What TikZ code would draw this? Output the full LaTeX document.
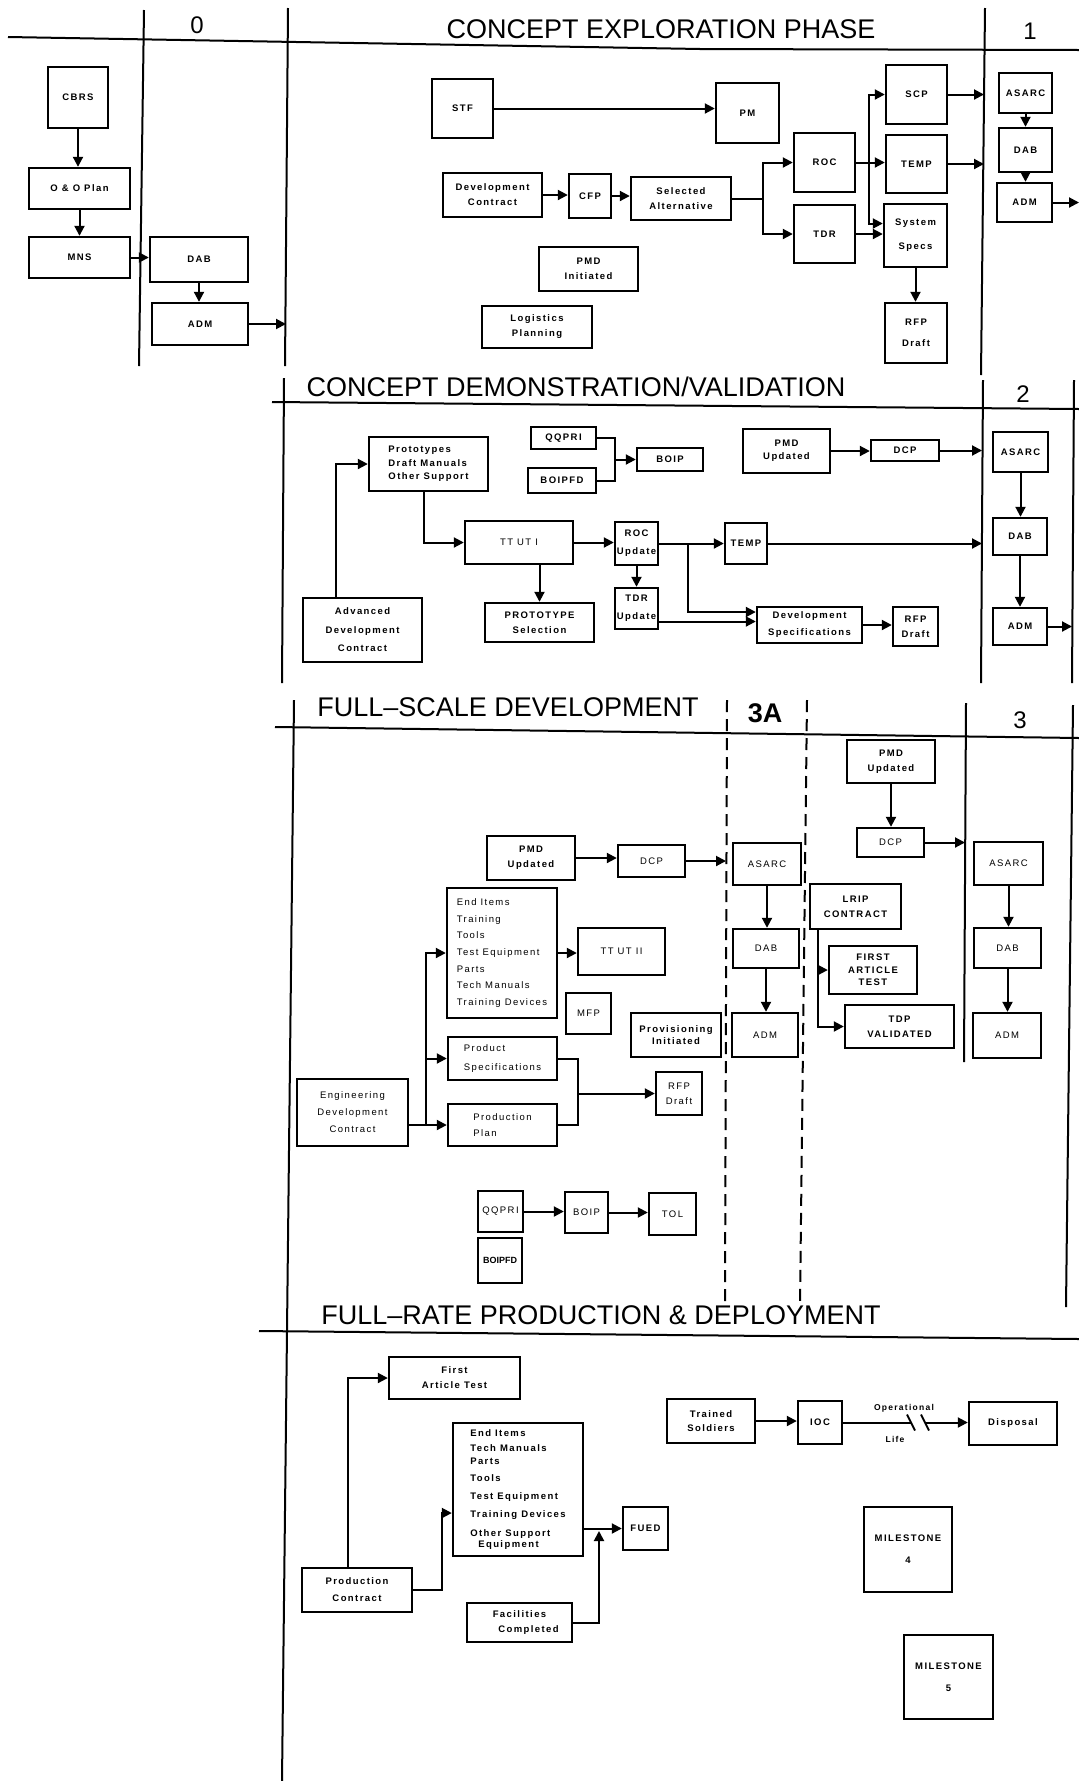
\documentclass[tikz,border=0pt]{standalone}
\usepackage{fontspec}
\setmainfont{Liberation Sans}
\newfontfamily\boxfont[LetterSpace=15]{Liberation Sans}
\newfontfamily\phasefont{Liberation Sans}
\usetikzlibrary{arrows.meta,calc,positioning}

\begin{document}
\begin{tikzpicture}[
  x=1pt, y=-1pt,
  box/.style={draw, line width=2.4pt, align=center, inner sep=1pt,
    font=\boxfont\fontsize{9.5}{15}\selectfont\bfseries},
  lbox/.style={box, font=\boxfont\fontsize{9.5}{15}\selectfont},
  sz/.style 2 args={minimum width=#1pt, minimum height=#2pt},
  arr/.style={-{Triangle[length=10pt,width=10pt]}, line width=2pt},
  ln/.style={line width=2pt},
  phase/.style={line width=2pt},
  ptitle/.style={font=\phasefont\fontsize{27}{30}\selectfont},
  mnum/.style={font=\phasefont\fontsize{24}{26}\selectfont},
  lab/.style={font=\boxfont\fontsize{8.5}{10}\selectfont\bfseries}
]
  \useasboundingbox (0,0) rectangle (1079,1781);

  % Phase lines
  \draw[phase] (8,37) -- (700,49) -- (1079,50);
  \draw[phase] (144,10) -- (139,366);
  \draw[phase] (288,8) -- (285,366);
  \draw[phase] (985,8) -- (981,375);
  \draw[phase] (272,402) -- (1079,409);
  \draw[phase] (284,378) -- (282,683);
  \draw[phase] (983,380) -- (981,683);
  \draw[phase] (1074,380) -- (1072,683);
  \draw[phase] (275,727) -- (1079,738);
  \draw[phase] (294,700) -- (282,1781);
  \draw[phase, dash pattern=on 12pt off 7pt] (727,700) -- (725,1305);
  \draw[phase, dash pattern=on 12pt off 7pt] (807,700) -- (800,1305);
  \draw[phase] (966,703) -- (964,1062);
  \draw[phase] (1073,705) -- (1066,1307);
  \draw[phase] (259,1331) -- (1079,1339);
  \coordinate (l0) at (286,0);
  \coordinate (l1) at (984,0);
  \coordinate (l1r) at (1079,0);
  \coordinate (l2) at (982,0);
  \coordinate (l2r) at (1072,0);
  \coordinate (l3a) at (726,0);
  \coordinate (l3) at (965,0);

  % Phase titles and milestones
  \node[ptitle] (cetitle) at (661,29) {CONCEPT EXPLORATION PHASE};
  \node[ptitle] (cdtitle) at (576,387) {CONCEPT DEMONSTRATION/VALIDATION};
  \node[ptitle] (fsdtitle) at (508,707) {FULL\textendash SCALE DEVELOPMENT};
  \node[ptitle] (frptitle) at (601,1315) {FULL\textendash RATE PRODUCTION \& DEPLOYMENT};
  \node[mnum] (n0) at (197,25) {0};
  \node[mnum] (n1) at (1030,31) {1};
  \node[mnum] (n2) at (1023,394) {2};
  \node[mnum, font=\phasefont\bfseries\fontsize{27}{30}\selectfont] (n3a) at (765,713) {3A};
  \node[mnum] (n3) at (1020,720) {3};

  % Before milestone 0
  \node[box, sz={60}{61}] (cbrs) at (78,97.5) {CBRS};
  \node[box, sz={101}{41}] (oo) at (79.5,188.5) {O \& O Plan};
  \node[box, sz={101}{41}] (mns) at (79.5,257.5) {MNS};
  \node[box, sz={98}{45}] (dab0) at (199,259.5) {DAB};
  \node[box, sz={96}{42}] (adm0) at (200,324) {ADM};

  % Concept exploration
  \node[box, sz={61}{59}] (stf) at (462.5,108.5) {STF};
  \node[box, sz={63}{60}] (pm) at (747.5,113) {PM};
  \node[box, sz={99}{44}] (devc) at (492.5,195) {Development\\Contract};
  \node[box, sz={42}{44}] (cfp) at (590,196) {CFP};
  \node[box, sz={100}{43}] (selalt) at (681,198.5) {Selected\\Alternative};
  \node[box, sz={99}{44}] (pmdi) at (588.5,269) {PMD\\Initiated};
  \node[box, sz={110}{42}] (logp) at (537,327) {Logistics\\Planning};
  \node[box, sz={61}{59}] (roc) at (824.5,162.5) {ROC};
  \node[box, sz={61}{58}] (tdr) at (824.5,234) {TDR};
  \node[box, sz={61}{59}] (scp) at (916.5,94.5) {SCP};
  \node[box, sz={61}{58}] (temp) at (916.5,164) {TEMP};
  \node[box, sz={63}{63}] (sysspec) at (915.5,235.5) {System\\[9pt]Specs};
  \node[box, sz={62}{60}] (rfpa) at (916,333) {RFP\\[6pt]Draft};
  \node[box, sz={53}{40}] (asarca) at (1025.5,93) {ASARC};
  \node[box, sz={53}{44}] (daba) at (1025.5,150) {DAB};
  \node[box, sz={55}{39}] (adma) at (1024.5,202.5) {ADM};

  % Concept demonstration / validation
  \node[box, sz={119}{54}, align=left] (proto) at (428.5,464) {Prototypes\\[-1.5pt]Draft Manuals\\[-1.5pt]Other Support};
  \node[box, sz={65}{22}] (qqprib) at (563.5,438) {QQPRI};
  \node[box, sz={68}{25}] (boipfdb) at (562,480.5) {BOIPFD};
  \node[box, sz={66}{23}] (boipb) at (670,459.5) {BOIP};
  \node[lbox, sz={108}{43}] (ttuta) at (519,542.5) {TT UT I};
  \node[box, sz={119}{64}] (adc) at (362.5,630) {Advanced\\[3.5pt]Development\\[3.5pt]Contract};
  \node[box, sz={109}{39}] (protsel) at (539.5,622.5) {PROTOTYPE\\Selection};
  \node[box, sz={43}{43}, inner sep=0pt] (rocu) at (636.5,543.5) {ROC\\[3pt]Update};
  \node[box, sz={43}{41}, inner sep=0pt] (tdru) at (636.5,608.5) {TDR\\[3pt]Update};
  \node[box, sz={42}{41}] (tempb) at (746,543.5) {TEMP};
  \node[box, sz={105}{36}] (devspec) at (809.5,625) {Development\\[2pt]Specifications};
  \node[box, sz={45}{39}] (rfpb) at (915.5,626.5) {RFP\\Draft};
  \node[box, sz={87}{44}] (pmdub) at (786.5,451) {PMD\\[-2pt]Updated};
  \node[box, sz={68}{21}] (dcpb) at (905,450.5) {DCP};
  \node[box, sz={55}{40}] (asarcb) at (1020.5,452) {ASARC};
  \node[box, sz={54}{37}] (dabb) at (1020,536.5) {DAB};
  \node[box, sz={54}{37}] (admb) at (1020,626.5) {ADM};

  % Full-scale development
  \node[box, sz={88}{44}] (pmduc) at (531,858) {PMD\\Updated};
  \node[lbox, sz={67}{32}] (dcpc) at (651.5,861) {DCP};
  \node[lbox, sz={110}{130}, align=left] (enditc) at (502,953) {End Items\\[1.7pt]Training\\[1.7pt]Tools\\[1.7pt]Test Equipment\\[1.7pt]Parts\\[1.7pt]Tech Manuals\\[1.7pt]Training Devices};
  \node[lbox, sz={87}{47}] (ttutb) at (621.5,951.5) {TT UT II};
  \node[lbox, sz={45}{41}] (mfp) at (588.5,1013.5) {MFP};
  \node[box, sz={90}{44}] (provi) at (676,1035) {Provisioning\\[-3pt]Initiated};
  \node[lbox, sz={109}{43}, align=left] (prodspec) at (502.5,1058.5) {Product\\[4pt]Specifications};
  \node[lbox, sz={109}{42}, align=left] (prodplan) at (502.5,1125) {Production\\[1pt]Plan};
  \node[lbox, sz={111}{67}] (edc) at (352.5,1112.5) {Engineering\\[2pt]Development\\[2pt]Contract};
  \node[lbox, sz={46}{43}] (rfpc) at (679,1093.5) {RFP\\Draft};
  \node[lbox, sz={45}{41}, inner sep=0pt] (qqpric) at (500.5,1211.5) {QQPRI};
  \node[lbox, sz={43}{41}] (boipc) at (586.5,1212.5) {BOIP};
  \node[lbox, sz={47}{42}] (tol) at (672.5,1214) {TOL};
  \node[box, sz={44}{45}, inner sep=0pt, font=\bfseries\fontsize{9}{11}\selectfont] (boipfdc) at (500,1260.5) {BOIPFD};
  \node[lbox, sz={68}{42}] (asarcc) at (767,864) {ASARC};
  \node[lbox, sz={66}{39}] (dabc) at (766,948.5) {DAB};
  \node[lbox, sz={66}{44}] (admc) at (765,1035) {ADM};
  \node[box, sz={88}{43}] (pmdud) at (891,761.5) {PMD\\Updated};
  \node[lbox, sz={67}{29}] (dcpd) at (890.5,842.5) {DCP};
  \node[box, sz={91}{45}] (lrip) at (855.5,906.5) {LRIP\\CONTRACT};
  \node[box, sz={88}{48}] (fatc) at (873,970) {FIRST\\[-2.5pt]ARTICLE\\[-2.5pt]TEST};
  \node[box, sz={109}{43}] (tdp) at (899.5,1026.5) {TDP\\VALIDATED};
  \node[lbox, sz={69}{43}] (asarcd) at (1008.5,863.5) {ASARC};
  \node[lbox, sz={67}{40}] (dabd) at (1007.5,948) {DAB};
  \node[lbox, sz={68}{45}] (admd) at (1007,1035.5) {ADM};

  % Full-rate production & deployment
  \node[box, sz={131}{42}] (fatd) at (454.5,1378) {First\\Article Test};
  \node[box, sz={130}{133}, align=left] (enditd) at (518,1489.5) {End Items\\Tech Manuals\\[-2pt]Parts\\[2pt]Tools\\[3pt]Test Equipment\\[3pt]Training Devices\\[4pt]Other Support\\[-4pt]\hspace*{8pt}Equipment};
  \node[box, sz={110}{44}] (pc) at (357,1590) {Production\\[2pt]Contract};
  \node[box, sz={45}{43}, inner sep=0pt] (fued) at (645.5,1528.5) {FUED};
  \node[box, sz={105}{39}] (facc) at (519.5,1622.5) {Facilities\\\hspace*{18pt}Completed};
  \node[box, sz={88}{44}] (trs) at (711,1421) {Trained\\[-1pt]Soldiers};
  \node[box, sz={44}{43}] (ioc) at (820,1422.5) {IOC};
  \node[box, sz={88}{43}] (disp) at (1013,1423.5) {Disposal};
  \node[box, sz={88}{85}] (msf) at (908,1549.5) {MILESTONE\\[7pt]4};
  \node[box, sz={89}{84}] (msg) at (948.5,1677) {MILESTONE\\[7pt]5};
  \node[lab] (oplab) at (904,1408) {Operational};
  \node[lab] (lifelab) at (895,1439) {Life};

  % Connections: before milestone 0
  \draw[arr] (cbrs.south) -- (cbrs.south |- oo.north);
  \draw[arr] (oo.south) -- (oo.south |- mns.north);
  \draw[arr] (mns.east) -- (mns.east -| dab0.west);
  \draw[arr] (dab0.south) -- (dab0.south |- adm0.north);
  \draw[arr] (adm0.east) -- (adm0.east -| l0);

  % Connections: concept exploration
  \draw[arr] (stf.east) -- (stf.east -| pm.west);
  \draw[arr] (devc.east) -- (devc.east -| cfp.west);
  \draw[arr] (cfp.east) -- (cfp.east -| selalt.west);
  \draw[arr] (selalt.east) -- ++(31,0) |- (roc.west);
  \draw[arr] (selalt.east) -- ++(31,0) |- (tdr.west);
  \draw[arr] (roc.east) -- (roc.east -| temp.west);
  \draw[arr] (roc.east) -- ++(13,0) |- (scp.west);
  \draw[arr] (roc.east) -- ++(13,0) |- ($(sysspec.west)+(0,-12)$);
  \draw[arr] (tdr.east) -- (tdr.east -| sysspec.west);
  \draw[arr] (scp.east) -- (scp.east -| l1);
  \draw[arr] (temp.east) -- (temp.east -| l1);
  \draw[arr] (sysspec.south) -- (sysspec.south |- rfpa.north);
  \draw[arr] (asarca.south) -- (asarca.south |- daba.north);
  \draw[arr] (daba.south) -- (daba.south |- adma.north);
  \draw[arr] (adma.east) -- (adma.east -| l1r);

  % Connections: concept demonstration / validation
  \draw[arr] ($(adc.north)+(-27,0)$) |- (proto.west);
  \draw[arr] ($(proto.south)+(-5,0)$) |- (ttuta.west);
  \draw[arr] (ttuta.south -| protsel.north) -- (protsel.north);
  \draw[arr] (ttuta.east) -- (ttuta.east -| rocu.west);
  \draw[arr] (rocu.south) -- (rocu.south |- tdru.north);
  \draw[arr] (rocu.east) -- (rocu.east -| tempb.west);
  \draw[arr] (rocu.east) -- ++(29,0) |- ($(devspec.west)+(0,-13)$);
  \draw[arr] ($(tdru.east)+(0,13)$) -- ($(devspec.west)+(0,-3.5)$);
  \draw[arr] (devspec.east) -- (devspec.east -| rfpb.west);
  \draw[arr] (tempb.east) -- (tempb.east -| l2);
  \draw[arr] (pmdub.east) -- (pmdub.east -| dcpb.west);
  \draw[arr] (dcpb.east) -- (dcpb.east -| l2);
  \coordinate (jq) at (615,459.5);
  \draw[ln] (qqprib.east) -| (jq) |- (boipfdb.east);
  \draw[arr] (jq) -- (boipb.west);
  \draw[arr] (asarcb.south) -- (asarcb.south |- dabb.north);
  \draw[arr] (dabb.south) -- (dabb.south |- admb.north);
  \draw[arr] (admb.east) -- (admb.east -| l2r);

  % Connections: full-scale development
  \draw[arr] (pmduc.east) -- (pmduc.east -| dcpc.west);
  \draw[arr] (dcpc.east) -- (dcpc.east -| l3a);
  \coordinate (je) at (426,1125);
  \draw[arr] (edc.east |- prodplan.west) -- (prodplan.west);
  \draw[arr] (je) |- (prodspec.west);
  \draw[arr] (je) |- (enditc.west);
  \draw[arr] (enditc.east) -- (enditc.east -| ttutb.west);
  \coordinate (jp) at (578,1093.5);
  \draw[ln] (prodspec.east) -| (jp) |- (prodplan.east);
  \draw[arr] (jp) -- (rfpc.west);
  \draw[arr] (qqpric.east) -- (qqpric.east -| boipc.west);
  \draw[arr] (boipc.east) -- (boipc.east -| tol.west);
  \draw[arr] (asarcc.south) -- (asarcc.south |- dabc.north);
  \draw[arr] (dabc.south) -- (dabc.south |- admc.north);
  \draw[arr] (pmdud.south) -- (pmdud.south |- dcpd.north);
  \draw[arr] (dcpd.east) -- (dcpd.east -| l3);
  \coordinate (jl) at (818,929);
  \draw[arr] (jl) |- (tdp.west);
  \draw[arr] (jl |- fatc.west) -- (fatc.west);
  \draw[arr] (asarcd.south) -- (asarcd.south |- dabd.north);
  \draw[arr] (dabd.south) -- (dabd.south |- admd.north);

  % Connections: full-rate production & deployment
  \draw[arr] ($(pc.north)+(-9,0)$) |- (fatd.west);
  \draw[arr] (pc.east) -- ++(29,0) |- ($(enditd.west)+(0,23.5)$);
  \draw[arr] (fued.west -| enditd.east) -- (fued.west);
  \coordinate (jf) at (599,1531);
  \draw[arr] (facc.east) -| (jf);
  \draw[arr] (trs.east) -- (trs.east -| ioc.west);
  \coordinate (brka) at (911,1422.5);
  \coordinate (brkb) at (925,1422.5);
  \draw[ln] (ioc.east) -- (brka);
  \draw[arr] (brkb) -- (brkb -| disp.west);
  \draw[ln] ($(brka)+(-4,-8)$) -- ($(brka)+(4,8)$);
  \draw[ln] ($(brkb)+(-4,-8)$) -- ($(brkb)+(4,8)$);
\end{tikzpicture}
\end{document}
